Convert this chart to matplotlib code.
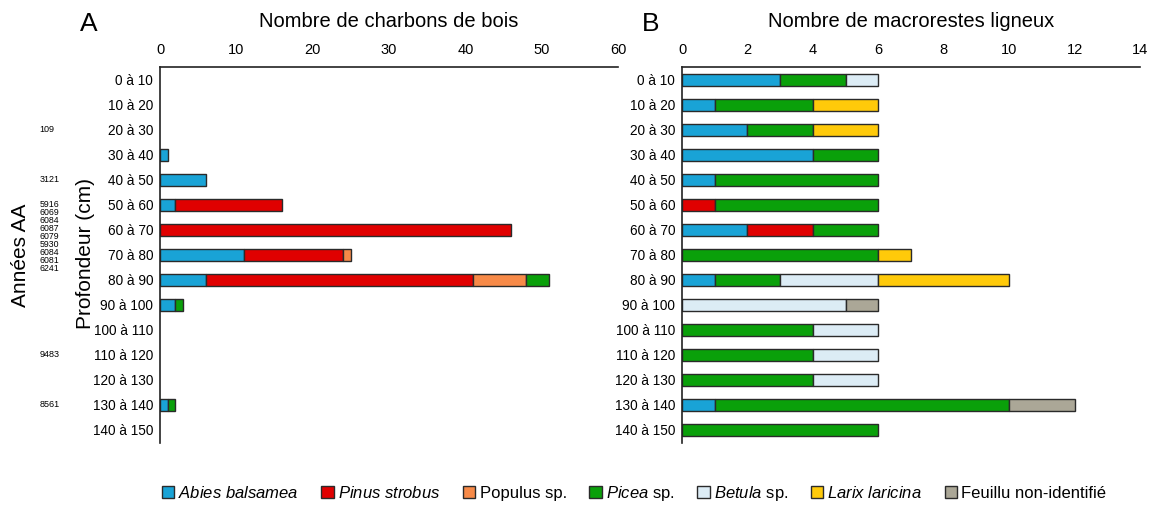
import matplotlib
matplotlib.use("Agg")
import matplotlib.pyplot as plt
from matplotlib.transforms import blended_transform_factory
from matplotlib.patches import Patch
import numpy as np

SANS = ["Liberation Sans", "DejaVu Sans"]
plt.rcParams["font.family"] = SANS
plt.rcParams["mathtext.fontset"] = "custom"
plt.rcParams["mathtext.rm"] = "Liberation Sans"
plt.rcParams["mathtext.it"] = "Liberation Sans:italic"

depths = ["0 à 10", "10 à 20", "20 à 30", "30 à 40", "40 à 50", "50 à 60", "60 à 70",
          "70 à 80", "80 à 90", "90 à 100", "100 à 110", "110 à 120", "120 à 130",
          "130 à 140", "140 à 150"]

taxa = ["Abies balsamea", "Pinus strobus", "Populus sp.", "Picea sp.",
        "Betula sp.", "Larix laricina", "Feuillu non-identifié"]
legend_labels = [r"$\it{Abies\ balsamea}$", r"$\it{Pinus\ strobus}$", "Populus sp.",
                 r"$\it{Picea}$ sp.", r"$\it{Betula}$ sp.", r"$\it{Larix\ laricina}$",
                 "Feuillu non-identifié"]
colors = ["#19a3d6", "#e00000", "#f78a48", "#0aa00a", "#dcecf5", "#ffca0a", "#aba797"]

# A: charcoal counts per depth
charbons = {
    "Abies balsamea": [0, 0, 0, 1, 6, 2, 0, 11, 6, 2, 0, 0, 0, 1, 0],
    "Pinus strobus":  [0, 0, 0, 0, 0, 14, 46, 13, 35, 0, 0, 0, 0, 0, 0],
    "Populus sp.":    [0, 0, 0, 0, 0, 0, 0, 1, 7, 0, 0, 0, 0, 0, 0],
    "Picea sp.":      [0, 0, 0, 0, 0, 0, 0, 0, 3, 1, 0, 0, 0, 1, 0],
}

# B: woody macroremain counts per depth
macrorestes = {
    "Abies balsamea":        [3, 1, 2, 4, 1, 0, 2, 0, 1, 0, 0, 0, 0, 1, 0],
    "Pinus strobus":         [0, 0, 0, 0, 0, 1, 2, 0, 0, 0, 0, 0, 0, 0, 0],
    "Picea sp.":             [2, 3, 2, 2, 5, 5, 2, 6, 2, 0, 4, 4, 4, 9, 6],
    "Betula sp.":            [1, 0, 0, 0, 0, 0, 0, 0, 3, 5, 2, 2, 2, 0, 0],
    "Larix laricina":        [0, 2, 2, 0, 0, 0, 0, 1, 4, 0, 0, 0, 0, 0, 0],
    "Feuillu non-identifié": [0, 0, 0, 0, 0, 0, 0, 0, 0, 1, 0, 0, 0, 2, 0],
}

# radiocarbon ages (years BP) listed beside the depth rows
ages_single = {"109": 2, "3121": 4, "9483": 11, "8561": 13}
ages_stack = ["5916", "6069", "6084", "6087", "6079", "5930", "6084", "6081", "6241"]

fig = plt.figure(figsize=(11.57, 5.12), dpi=100)
axA = fig.add_axes([0.1383, 0.1348, 0.3959, 0.7344])
axB = fig.add_axes([0.5895, 0.1348, 0.3959, 0.7344])

y = np.arange(len(depths))
edge = "#2a2a2a"


def stacked(ax, data):
    left = np.zeros(len(depths))
    for name, vals in data.items():
        vals = np.asarray(vals, dtype=float)
        mask = vals > 0
        ax.barh(y[mask], vals[mask], left=left[mask], height=0.46,
                color=colors[taxa.index(name)], edgecolor=edge, linewidth=1.0, zorder=2)
        left += vals


def style(ax, xmax, step, title, letter, letter_x):
    ax.set_xlim(0, xmax)
    ax.set_ylim(len(depths) - 0.48, -0.52)
    ax.xaxis.tick_top()
    ax.set_xticks(np.arange(0, xmax + 0.1, step))
    ax.tick_params(axis="x", length=0, pad=7, labelsize=10.5)
    ax.tick_params(axis="y", length=0, pad=5, labelsize=9.8)
    ax.set_yticks(y)
    ax.set_yticklabels(depths)
    for s in ("right", "bottom"):
        ax.spines[s].set_visible(False)
    for s in ("top", "left"):
        ax.spines[s].set_color("#222222")
        ax.spines[s].set_linewidth(1.2)
    pos = ax.get_position()
    fig.text(pos.x0 + pos.width / 2, 0.958, title, fontsize=14.5, ha="center", va="center")
    fig.text(letter_x, 0.953, letter, fontsize=19, ha="center", va="center")


stacked(axA, charbons)
stacked(axB, macrorestes)
style(axA, 60, 10, "Nombre de charbons de bois", "A", 0.077)
style(axB, 14, 2, "Nombre de macrorestes ligneux", "B", 0.562)

fig.text(0.0735, 0.505, "Profondeur (cm)", rotation=90, fontsize=15, ha="center", va="center")
fig.text(0.018, 0.502, "Années AA", rotation=90, fontsize=15, ha="center", va="center")

tr = blended_transform_factory(fig.transFigure, axA.transData)
for txt, row in ages_single.items():
    axA.text(0.034, row, txt, transform=tr, fontsize=6.5, ha="left", va="center",
             clip_on=False)
axA.text(0.034, 6.256, "\n".join(ages_stack), transform=tr, fontsize=6.3, ha="left",
         va="center", clip_on=False, linespacing=0.86)

handles = [Patch(facecolor=c, edgecolor=edge, linewidth=1.0) for c in colors]
fig.legend(handles, legend_labels, loc="center", bbox_to_anchor=(0.548, 0.036), ncol=7,
           frameon=False, fontsize=12, handlelength=0.75, handleheight=0.75,
           handletextpad=0.25, columnspacing=1.35)

fig.savefig("out.png", dpi=100)
